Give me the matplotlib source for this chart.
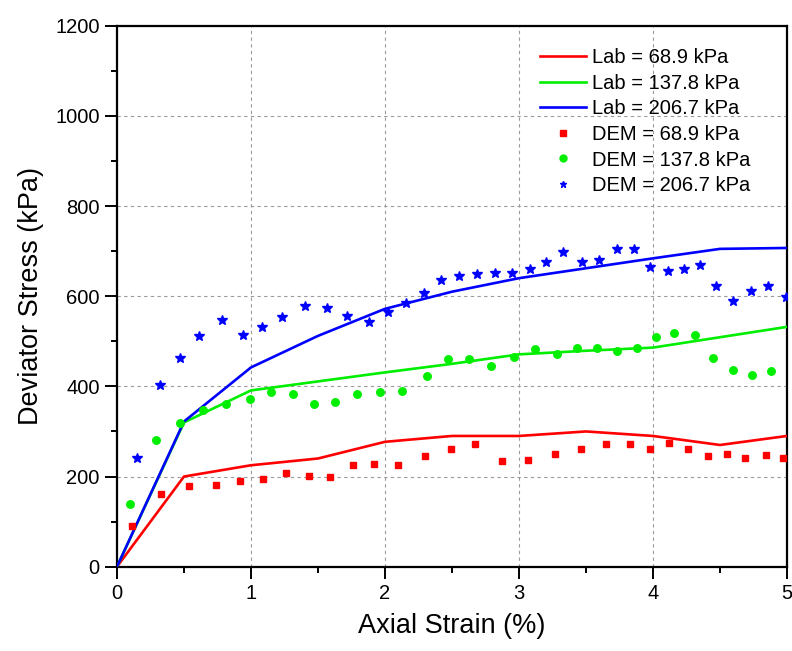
import matplotlib
matplotlib.use("Agg")
import matplotlib.pyplot as plt
from matplotlib.ticker import MultipleLocator

plt.rcParams['font.family'] = ['Liberation Sans', 'DejaVu Sans']

# Laboratory triaxial curves
lab_strain = [0, 0.5, 1.0, 1.5, 2.0, 2.5, 3.0, 3.5, 4.0, 4.5, 5.0]
lab_689 = [0, 200, 225, 240, 277, 290, 290, 300, 290, 270, 290]
lab_1378 = [0, 320, 391, 411, 431, 450, 471, 479, 486, 509, 532]
lab_2067 = [0, 322, 442, 512, 572, 610, 640, 662, 684, 705, 707]

# DEM simulation results
dem_689_x = [0.11, 0.33, 0.54, 0.74, 0.92, 1.09, 1.26, 1.43, 1.59, 1.76, 1.92, 2.10,
             2.30, 2.49, 2.67, 2.87, 3.07, 3.27, 3.46, 3.65, 3.83, 3.98, 4.12,
             4.26, 4.41, 4.55, 4.69, 4.84, 4.97]
dem_689_y = [91, 162, 180, 181, 189, 195, 208, 201, 199, 225, 228, 226,
             245, 261, 273, 234, 236, 249, 262, 273, 273, 260, 274,
             262, 245, 251, 240, 247, 240]

dem_1378_x = [0.10, 0.29, 0.47, 0.64, 0.81, 0.99, 1.15, 1.31, 1.47, 1.63, 1.79, 1.96,
              2.13, 2.31, 2.47, 2.63, 2.79, 2.96, 3.12, 3.28, 3.43, 3.58, 3.73,
              3.88, 4.02, 4.16, 4.31, 4.45, 4.60, 4.74, 4.88]
dem_1378_y = [138, 280, 319, 348, 361, 371, 388, 382, 360, 366, 382, 388,
              389, 423, 460, 460, 446, 466, 483, 472, 486, 486, 479,
              486, 510, 518, 513, 462, 436, 426, 434]

dem_2067_x = [0.15, 0.32, 0.47, 0.61, 0.78, 0.94, 1.08, 1.23, 1.40, 1.57, 1.72, 1.88,
              2.02, 2.16, 2.29, 2.42, 2.55, 2.69, 2.82, 2.95, 3.08, 3.20, 3.33,
              3.47, 3.60, 3.73, 3.86, 3.98, 4.11, 4.23, 4.35, 4.47, 4.60, 4.73,
              4.86, 4.99]
dem_2067_y = [240, 402, 463, 512, 547, 513, 531, 554, 579, 573, 556, 543,
              566, 585, 607, 635, 645, 649, 651, 651, 660, 675, 698,
              676, 681, 704, 704, 665, 657, 661, 669, 623, 589, 611,
              622, 599]

fig = plt.figure(figsize=(7.92, 6.51), dpi=100)
ax = fig.add_axes([0.1477, 0.1295, 0.8460, 0.8310])

lw = 1.9
ax.plot(lab_strain, lab_689, color='#ff0000', lw=lw, label='Lab = 68.9 kPa', zorder=3)
ax.plot(lab_strain, lab_1378, color='#00ee00', lw=lw, label='Lab = 137.8 kPa', zorder=3)
ax.plot(lab_strain, lab_2067, color='#0000ff', lw=lw, label='Lab = 206.7 kPa', zorder=3)
ax.plot(dem_689_x, dem_689_y, ls='none', marker='s', ms=5, color='#ff0000',
        label='DEM = 68.9 kPa', zorder=4)
ax.plot(dem_1378_x, dem_1378_y, ls='none', marker='o', ms=5.4, color='#00ee00',
        label='DEM = 137.8 kPa', zorder=4)
ax.plot(dem_2067_x, dem_2067_y, ls='none', marker='*', ms=7, color='#0000ff',
        label='DEM = 206.7 kPa', zorder=4)

ax.set_xlim(0, 5)
ax.set_ylim(0, 1200)
ax.xaxis.set_major_locator(MultipleLocator(1))
ax.xaxis.set_minor_locator(MultipleLocator(0.5))
ax.yaxis.set_major_locator(MultipleLocator(200))
ax.yaxis.set_minor_locator(MultipleLocator(100))

ax.grid(True, which='major', ls=(0, (3, 3)), color='#9a9a9a', lw=0.8)
ax.set_axisbelow(True)

for s in ax.spines.values():
    s.set_linewidth(1.6)
ax.tick_params(which='major', direction='out', length=8.5, width=1.4,
               labelsize=14.5, pad=4, top=False, right=False)
ax.tick_params(which='minor', direction='out', length=4.5, width=1.4,
               top=False, right=False)

ax.set_xlabel('Axial Strain (%)', fontsize=19.5, labelpad=7)
ax.set_ylabel('Deviator Stress (kPa)', fontsize=19.5, labelpad=8)

leg = ax.legend(loc='upper right', bbox_to_anchor=(0.967, 0.985), frameon=False,
                fontsize=14.5, handlelength=2.3, labelspacing=0.33,
                handletextpad=0.3, borderaxespad=0.3)
for h in leg.legend_handles[3:]:
    h.set_markersize(5)

fig.savefig('out.png', dpi=100, facecolor='white')
